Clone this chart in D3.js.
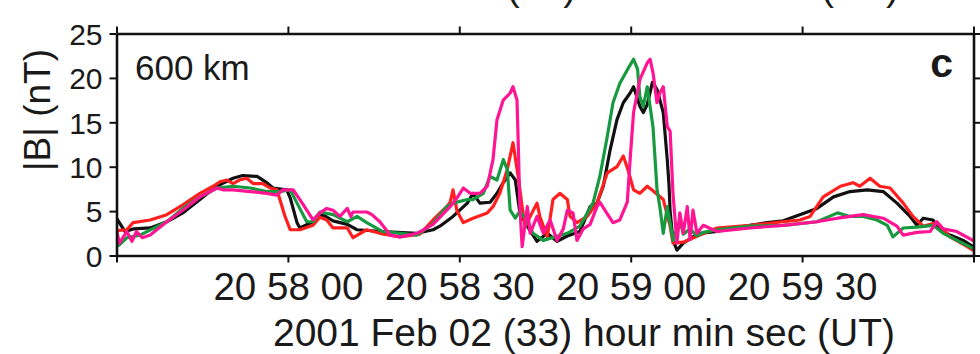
<!DOCTYPE html>
<html>
<head>
<meta charset="utf-8">
<script src="https://cdn.jsdelivr.net/npm/d3@7"></script>
<style>
  html, body { margin: 0; padding: 0; background: #fff; }
  svg { display: block; }
  text { font-family: "Liberation Sans", Arial, Helvetica, sans-serif; fill: #1a1a1a; }
</style>
</head>
<body>
<svg id="chart" width="980" height="354"></svg>
<script>
// ---- data ----
const timeStartUTC = "2001-02-02T20:57:30Z";
const timeEndUTC   = "2001-02-02T21:00:00Z";
const tickStepSec = 30;
const yTicks = [0, 5, 10, 15, 20, 25];
const yDomain = [0, 25];
const panelLabel = "600 km";
const panelLetter = "c";
const yAxisTitle = "|B| (nT)";
const xAxisTitle = "2001 Feb 02 (33) hour min sec (UT)";
const seriesNames = ["black", "red", "green", "magenta"];
const seriesColors = ["#111111", "#ff1f1f", "#17993f", "#ff1493"];

// [seconds after 20:57:30, |B| nT]
const black = [[0,4.2],[1.5,2.7],[3,3.0],[5.9,3.1],[8.8,3.8],[11.6,4.8],[14.6,6.3],[17.5,7.8],[20.4,8.7],[22.1,9.0],[24.6,8.9],[26.3,8.2],[27.4,7.6],[29.8,7.4],[30.4,6.5],[31.6,3.7],[32.1,3.1],[34.4,3.8],[36.1,4.6],[37.9,3.9],[40.4,3.5],[42.1,2.9],[46.6,2.7],[52.6,2.5],[55.4,2.9],[56.6,3.3],[58.9,4.4],[61.4,5.9],[62.4,7.0],[63.6,5.9],[65.4,6.0],[66.6,7.0],[67.7,8.2],[68.9,9.3],[69.8,8.5],[70.6,4.8],[71.9,3.3],[73.6,1.6],[75.4,2.5],[77.1,1.6],[78.9,2.2],[81.1,2.7],[82.9,5.5],[84.1,5.9],[85.2,7.8],[86.4,11.9],[87.6,15.3],[88.7,17.2],[89.9,18.3],[90.5,19.0],[91.6,16.8],[92.2,16.1],[92.9,17.0],[93.8,19.5],[94.6,18.7],[95.7,16.1],[96.4,10.8],[96.7,8.0],[96.9,5.0],[97.4,1.7],[98.1,0.6],[99.2,1.4],[100.9,2.1],[102.1,2.5],[105.1,2.7],[107.9,3.1],[110.9,3.4],[113.9,3.7],[116.7,3.9],[119.6,4.6],[122.6,5.3],[125.5,6.6],[128.4,7.2],[131.4,7.4],[134.2,7.2],[136.6,5.9],[138.9,4.4],[140.1,3.4],[141.2,4.2],[142.9,4.0],[144.1,2.9],[145.9,2.3],[148.2,1.7],[149.9,1.0]];

const red = [[0,2.8],[1.8,2.9],[2.9,3.7],[5.9,4.0],[8.8,4.6],[11.6,5.7],[14.6,7.0],[16.9,7.8],[18.1,8.3],[19.3,8.5],[20.4,8.1],[21.5,8.5],[22.8,8.7],[23.9,8.1],[25.6,8.1],[26.9,7.6],[28.1,7.4],[28.6,6.3],[29.5,4.4],[30.4,2.9],[32.1,2.9],[34.4,3.4],[35.6,4.3],[36.8,4.0],[37.9,3.1],[40.4,3.1],[41.4,2.0],[43.8,2.9],[46.1,2.5],[49.6,2.1],[53.1,2.4],[55.4,4.0],[57.8,5.5],[58.4,6.0],[58.9,7.4],[59.6,5.0],[60.7,3.7],[62.4,4.2],[64.9,4.8],[65.9,5.5],[67.1,7.0],[68.4,9.7],[69.4,12.7],[70.3,8.9],[71.0,5.5],[71.5,3.3],[72.4,4.4],[73.6,5.9],[74.1,4.4],[75.4,2.1],[76.4,6.3],[77.6,7.0],[78.9,6.3],[79.4,4.4],[80.6,3.7],[82.4,4.4],[84.1,5.9],[85.9,9.3],[87.6,10.0],[88.7,11.2],[89.5,9.7],[90.5,7.4],[91.6,7.0],[92.9,7.8],[93.9,7.3],[95.7,6.3],[96.9,3.3],[97.4,1.4],[99.2,1.5],[102.1,2.3],[105.1,3.1],[110.9,3.4],[116.7,3.8],[119.6,4.0],[121.4,4.4],[123.7,6.6],[126.7,7.8],[128.9,8.2],[130.1,7.8],[131.9,8.7],[133.6,7.8],[135.4,7.6],[137.7,5.9],[139.4,4.4],[141.2,3.3],[143.6,3.7],[145.9,2.1],[148.9,1.0],[149.9,0.6]];

const green = [[0,1.0],[0.5,1.2],[1.8,2.0],[4.1,2.3],[8.8,3.8],[11.6,5.3],[14.6,6.6],[17.6,7.6],[20.4,7.8],[23.4,7.6],[26.3,7.2],[28.6,7.2],[30.4,7.4],[31.6,5.9],[33.3,3.8],[34.4,3.8],[35.6,4.9],[37.9,4.6],[40.4,3.8],[42.1,4.4],[43.8,3.7],[46.6,2.7],[49.6,2.5],[52.6,2.3],[55.4,3.6],[57.8,5.5],[58.9,5.9],[61.4,6.3],[62.4,6.3],[64.2,7.0],[65.4,8.9],[66.6,8.5],[67.7,10.8],[68.4,9.7],[68.9,5.1],[69.8,4.2],[70.6,5.0],[71.9,3.9],[72.9,2.5],[74.7,1.7],[78.9,2.5],[81.1,3.3],[83.4,5.9],[84.6,8.9],[85.9,13.4],[86.9,17.2],[88.1,19.4],[89.4,20.9],[90.5,22.1],[91.2,21.0],[91.6,17.9],[92.2,16.8],[92.9,19.0],[93.9,14.5],[94.6,7.5],[95.1,5.5],[95.7,2.5],[96.4,5.5],[96.9,3.7],[97.4,1.7],[98.6,4.0],[99.2,2.4],[100.4,3.0],[101.6,2.2],[102.7,2.6],[105.1,2.9],[110.9,3.3],[116.7,3.4],[122.6,3.8],[126.2,4.8],[128.4,4.4],[130.7,4.4],[133.1,4.0],[134.9,3.4],[135.9,2.1],[137.7,3.1],[140.1,3.2],[142.9,3.4],[144.7,2.5],[147.1,1.7],[149.9,0.8]];

const magenta = [[0,2.9],[0.5,1.4],[1.8,2.7],[2.7,1.6],[3.5,2.7],[4.5,2.0],[5.9,2.3],[8.8,3.8],[11.6,5.1],[14.6,6.6],[17.6,7.6],[18.6,7.4],[20.4,7.4],[23.4,7.2],[26.3,7.0],[28.1,6.8],[29.1,7.4],[30.9,7.4],[32.1,6.3],[33.3,5.1],[34.4,4.0],[35.6,4.8],[36.8,5.3],[37.9,5.1],[39.1,4.4],[40.4,5.3],[41.0,4.4],[41.4,4.9],[43.8,4.9],[44.7,4.6],[46.1,3.8],[47.9,2.3],[49.6,2.1],[52.6,2.5],[55.4,3.5],[58.4,5.5],[59.6,6.5],[60.7,7.6],[61.9,7.0],[63.6,7.0],[64.9,7.8],[65.9,10.8],[66.6,15.3],[67.7,17.5],[68.9,18.3],[69.4,19.0],[70.1,17.5],[70.3,13.0],[70.6,5.5],[71.0,1.0],[71.9,5.5],[72.4,2.5],[73.6,4.4],[74.7,2.5],[75.9,4.0],[77.1,1.7],[78.2,3.0],[78.9,5.1],[79.9,4.8],[80.6,1.7],[81.7,3.0],[82.9,3.5],[84.1,5.5],[84.6,6.0],[85.9,4.7],[86.9,3.7],[88.1,4.0],[89.4,6.0],[89.9,10.8],[90.5,16.1],[91.6,19.8],[92.9,21.7],[93.4,22.1],[93.9,20.6],[94.6,17.2],[95.1,18.3],[95.7,19.0],[96.4,14.5],[96.9,14.0],[97.4,7.0],[98.1,1.4],[98.6,4.8],[99.2,2.5],[99.9,5.5],[100.4,1.8],[100.9,5.1],[101.6,2.5],[102.7,3.4],[105.1,2.7],[110.9,3.1],[116.7,3.4],[122.6,3.8],[126.2,4.2],[130.7,4.6],[134.2,4.2],[136.6,3.3],[137.7,2.3],[140.1,2.6],[142.4,2.7],[143.6,3.8],[144.7,3.0],[147.1,2.7],[148.2,2.3],[149.9,1.7]];

// ---- layout ----
const svg = d3.select("#chart");
const L = 116.5, R = 973.5, T = 33.5, B = 255.5;
const t0 = new Date(timeStartUTC), t1 = new Date(timeEndUTC);
const x = d3.scaleUtc().domain([t0, t1]).range([L, R]);
const y = d3.scaleLinear().domain(yDomain).range([B, T]);
const tickDates = d3.range(0, (t1 - t0) / 1000 + 1, tickStepSec).map(s => new Date(+t0 + s * 1000));
const fmt = d3.utcFormat("%H %M %S");

// partially visible title of the panel above (only its lowest part shows)
svg.append("text").attr("x", 588).attr("y", 0).attr("text-anchor", "middle")
  .style("font-size", "39px").text(xAxisTitle);

// clip
svg.append("clipPath").attr("id", "plotclip").append("rect")
  .attr("x", L).attr("y", T - 2).attr("width", R - L).attr("height", B - T + 4);

const lineGen = d3.line()
  .x(d => x(new Date(+t0 + d[0] * 1000)))
  .y(d => y(d[1]));

const allSeries = [black, red, green, magenta];
const g = svg.append("g").attr("clip-path", "url(#plotclip)");
allSeries.forEach((s, i) => {
  g.append("path").datum(s)
    .attr("d", lineGen)
    .attr("fill", "none")
    .attr("stroke", seriesColors[i])
    .attr("stroke-width", 3.2)
    .attr("stroke-linejoin", "round")
    .attr("stroke-linecap", "round");
});

// axes
function styleAxis(sel) {
  sel.select(".domain").attr("stroke", "#111").attr("stroke-width", 2.6);
  sel.selectAll(".tick line").attr("stroke", "#111").attr("stroke-width", 2);
}
const xb = svg.append("g").attr("transform", `translate(0,${B})`)
  .call(d3.axisBottom(x).tickValues(tickDates).tickSize(7).tickSizeOuter(0)
    .tickFormat((d, i) => (i === 0 || i === tickDates.length - 1) ? "" : fmt(d)));
styleAxis(xb);
xb.selectAll(".tick text").attr("y", 0).attr("dy", "44px").style("font-size", "38.5px").attr("fill", "#1a1a1a");

const xt = svg.append("g").attr("transform", `translate(0,${T})`)
  .call(d3.axisTop(x).tickValues(tickDates).tickSize(7).tickSizeOuter(0).tickFormat(""));
styleAxis(xt);

const yl = svg.append("g").attr("transform", `translate(${L},0)`)
  .call(d3.axisLeft(y).tickValues(yTicks).tickSize(7).tickSizeOuter(0).tickFormat(d3.format("d")));
styleAxis(yl);
yl.selectAll(".tick text").attr("x", -14).attr("dy", "0.36em").style("font-size", "30px").attr("fill", "#1a1a1a");

const yr = svg.append("g").attr("transform", `translate(${R},0)`)
  .call(d3.axisRight(y).tickValues(yTicks).tickSize(7).tickSizeOuter(0).tickFormat(""));
styleAxis(yr);

// texts
svg.append("text").attr("x", 584).attr("y", 346).attr("text-anchor", "middle")
  .style("font-size", "39px").text(xAxisTitle);
svg.append("text").attr("transform", "translate(50,110) rotate(-90)").attr("text-anchor", "middle")
  .style("font-size", "37px").text(yAxisTitle);
svg.append("text").attr("x", 135).attr("y", 80).style("font-size", "35px").text(panelLabel);
svg.append("text").attr("x", 953).attr("y", 77).attr("text-anchor", "end")
  .style("font-size", "41px").style("font-weight", "bold").text(panelLetter);
</script>
</body>
</html>
